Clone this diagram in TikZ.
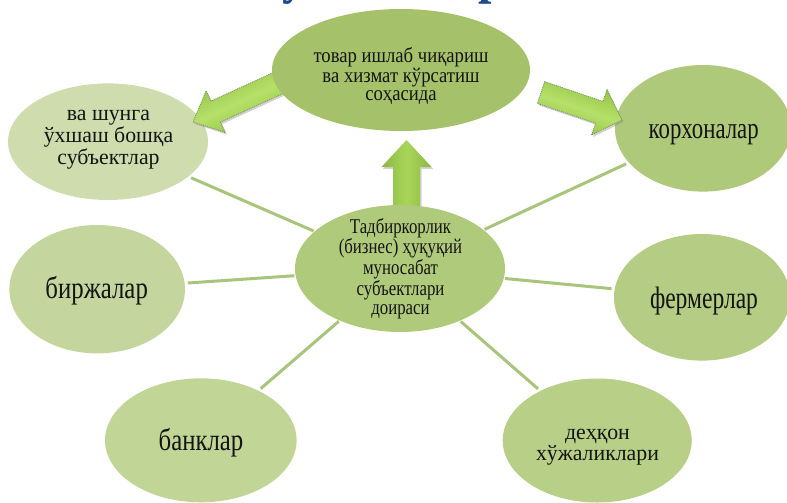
\documentclass[tikz,border=0pt]{standalone}
\usepackage{fontspec}
\setmainfont{Liberation Serif}[FakeStretch=0.8]
\newfontfamily\fTop{Liberation Serif}[FakeStretch=0.89]
\newfontfamily\fWide{Liberation Serif}[FakeStretch=0.99]
\newfontfamily\fNar{Liberation Serif}[FakeStretch=0.76]
\usetikzlibrary{shapes.geometric,shadows,calc}

\definecolor{cTop}{HTML}{A5C26B}
\definecolor{cCen}{HTML}{B0CA7C}
\definecolor{cVa}{HTML}{CFDDAE}
\definecolor{cKor}{HTML}{AFC97A}
\definecolor{cBir}{HTML}{C4D69D}
\definecolor{cBan}{HTML}{C1D597}
\definecolor{cFer}{HTML}{B4CC83}
\definecolor{cDeh}{HTML}{B8CF88}
\definecolor{cLine}{HTML}{A9C47B}
\definecolor{aEdge}{HTML}{8CC23C}
\definecolor{aMid}{HTML}{B6E06A}
\definecolor{uEdge}{HTML}{8AB743}
\definecolor{uMid}{HTML}{A9D659}
\definecolor{aDash}{HTML}{7E8C68}
\definecolor{titleblue}{HTML}{1F4A8C}
\definecolor{txtc}{HTML}{141414}

\tikzset{
  bub/.style 2 args={ellipse, draw=none, inner sep=0pt,
    minimum width={2*#1}, minimum height={2*#2}},
  txt/.style={text=txtc, align=center, inner sep=0pt},
  conn/.style={draw=cLine, line width=3pt, shorten <=3pt, shorten >=1pt},
  sidearrow/.style={left color=aEdge, right color=aEdge, middle color=aMid,
    draw=aDash, line width=0.8pt, dash pattern=on 1pt off 1pt,
    drop shadow={shadow xshift=1.5pt, shadow yshift=-2pt, opacity=.35}},
  uparrow/.style={left color=uEdge, right color=uEdge, middle color=uMid,
    drop shadow={shadow xshift=1.5pt, shadow yshift=-2pt, opacity=.35}},
  titlefrag/.style={font=\bfseries\fontsize{60}{60}\selectfont, text=titleblue,
    anchor=base, inner sep=0pt},
}

% #1 style, #2 tail, #3 tip, #4 shaft half width, #5 head half width, #6 head length
\newcommand\myblockarrow[6]{%
  \coordinate (hb) at ($(#3)!#6!(#2)$);
  \path[#1]
    ($(#2)!#4!90:(#3)$) -- ($(hb)!#4!90:(#3)$) -- ($(hb)!#5!90:(#3)$) --
    (#3) --
    ($(hb)!#5!-90:(#3)$) -- ($(hb)!#4!-90:(#3)$) -- ($(#2)!#4!-90:(#3)$) -- cycle;
}

\begin{document}
\begin{tikzpicture}[x=1pt,y=-1pt]
\useasboundingbox (0,0) rectangle (787,503);
\fill[white] (0,0) rectangle (787,503);

% cut-off title fragments (the title lies above the picture's top edge)
\node[titlefrag] (tt1) at (294,-8) {у};
\node[titlefrag] (tt2) at (492,-8) {р};

% outer ellipses
\node[bub={100}{58.3}, fill=cVa] (va) at (108,141.7) {};
\node[bub={88}{63.3}, fill=cKor] (kor) at (703,128.3) {};
\node[bub={87.8}{64.2}, fill=cBir] (bir) at (97.2,289.2) {};
\node[bub={95.8}{62}, fill=cBan] (ban) at (200.8,440.3) {};
\node[bub={88}{63.3}, fill=cFer] (fer) at (702,297.3) {};
\node[bub={94.5}{62}, fill=cDeh] (deh) at (597.2,440.5) {};

% block arrows
\coordinate (lt) at (279.6,82.4);
\coordinate (lp) at (193,122);
\myblockarrow{sidearrow, shading angle=204.5}{lt}{lp}{11.6pt}{23pt}{25pt}
\coordinate (rt) at (541,92.5);
\coordinate (rp) at (622,120);
\myblockarrow{sidearrow, shading angle=341}{rt}{rp}{11.5pt}{24pt}{24pt}
\coordinate (ut) at (406.5,212);
\coordinate (up) at (406.5,140);
\myblockarrow{uparrow}{ut}{up}{13.5pt}{25pt}{27pt}

% top and centre ellipses over the arrows' tails
\node[bub={129}{61}, fill=cTop] (top) at (401,70) {};
\node[bub={105}{63.5}, fill=cCen] (cen) at (400,268.5) {};

% connectors
\draw[conn] (va) -- (cen);
\draw[conn] (bir) -- (cen);
\draw[conn] (ban) -- (cen);
\draw[conn] (kor) -- (cen);
\draw[conn] (fer) -- (cen);
\draw[conn] (deh) -- (cen);

% texts
\node[txt, font=\fTop\fontsize{21}{18}\selectfont] (topt) at (401,76) {товар ишлаб чиқариш\\ва хизмат кўрсатиш\\соҳасида};
\node[txt, font=\fontsize{21}{19}\selectfont] (cent) at (400.5,268.5) {Тадбиркорлик\\(бизнес) ҳуқуқий\\муносабат\\субъектлари\\доираси};
\node[txt, font=\fWide\fontsize{22}{22}\selectfont] (vat) at (108.5,140) {ва шунга\\ўхшаш бошқа\\субъектлар};
\node[txt, font=\fWide\fontsize{22}{21.3}\selectfont] (deht) at (597.5,447) {деҳқон\\хўжаликлари};
\node[txt, font=\fNar\fontsize{30}{30}\selectfont, anchor=base] (kort) at (703.7,138.3) {корхоналар};
\node[txt, font=\fontsize{31}{31}\selectfont, anchor=base] (birt) at (96.7,298.3) {биржалар};
\node[txt, font=\fontsize{31}{31}\selectfont, anchor=base] (bant) at (201,450.7) {банклар};
\node[txt, font=\fNar\fontsize{31}{31}\selectfont, anchor=base] (fert) at (704,308.3) {фермерлар};
\end{tikzpicture}
\end{document}
